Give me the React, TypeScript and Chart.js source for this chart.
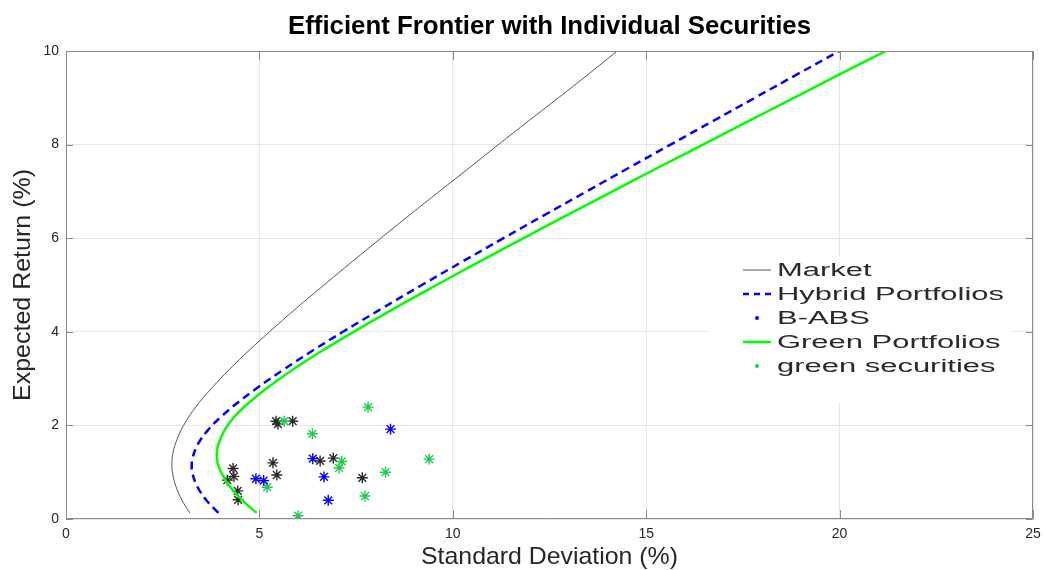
import React, { useEffect, useRef } from "react";
import { Chart, registerables } from "chart.js";

Chart.register(...registerables);

const FONT = '"Liberation Sans", Arial, Helvetica, sans-serif';

const TITLE = "Efficient Frontier with Individual Securities";
const X_LABEL = "Standard Deviation (%)";
const Y_LABEL = "Expected Return (%)";

const X_TICKS = [0, 5, 10, 15, 20, 25];
const Y_TICKS = [0, 2, 4, 6, 8, 10];

// Frontier curves: expected return levels and the standard deviation read at each
const marketRet = [0.13, 0.4, 0.7, 1.0, 1.17, 1.4, 1.7, 2.0, 2.4, 2.8, 3.2, 3.6, 4.0, 4.5, 5.0, 5.5, 6.0, 6.5, 7.0, 7.5, 8.0, 8.5, 9.0, 9.5, 10.0];
const marketSd = [3.2, 3.0, 2.84, 2.75, 2.74, 2.76, 2.87, 3.04, 3.36, 3.77, 4.23, 4.73, 5.26, 5.95, 6.67, 7.4, 8.14, 8.89, 9.65, 10.42, 11.18, 11.95, 12.73, 13.5, 14.25];

const hybridRet = [0.13, 0.4, 0.7, 1.0, 1.13, 1.3, 1.6, 1.9, 2.2, 2.5, 2.8, 3.2, 3.6, 4.0, 4.5, 5.0, 5.5, 6.0, 6.5, 7.0, 7.5, 8.0, 8.5, 9.0, 9.5, 10.0];
const hybridSd = [3.94, 3.63, 3.39, 3.26, 3.25, 3.27, 3.41, 3.67, 4.03, 4.46, 4.94, 5.64, 6.38, 7.16, 8.17, 9.2, 10.25, 11.31, 12.38, 13.46, 14.54, 15.63, 16.72, 17.81, 18.9, 20.0];

const greenRet = [0.13, 0.4, 0.7, 1.0, 1.2, 1.38, 1.6, 1.9, 2.2, 2.5, 2.8, 3.2, 3.6, 4.0, 4.5, 5.0, 5.5, 6.0, 6.5, 7.0, 7.5, 8.0, 8.5, 9.0, 9.5, 10.0];
const greenSd = [4.93, 4.56, 4.23, 4.01, 3.92, 3.9, 3.94, 4.1, 4.37, 4.75, 5.2, 5.88, 6.63, 7.44, 8.49, 9.58, 10.69, 11.83, 12.97, 14.13, 15.29, 16.47, 17.64, 18.82, 20.0, 21.2];

// Individual securities
const otherSd = [5.43, 5.48, 5.86, 4.32, 4.34, 4.17, 4.44, 4.45, 5.35, 5.45, 6.57, 6.91, 7.66];
const otherRet = [2.09, 2.03, 2.09, 1.08, 0.91, 0.83, 0.6, 0.41, 1.2, 0.94, 1.24, 1.3, 0.88];

const babsSd = [8.39, 6.38, 6.67, 4.91, 5.11, 6.78];
const babsRet = [1.92, 1.29, 0.9, 0.86, 0.82, 0.4];

const greenSecSd = [5.64, 7.81, 6.37, 7.13, 7.06, 5.2, 6.0, 8.26, 7.73, 9.39];
const greenSecRet = [2.09, 2.39, 1.82, 1.23, 1.09, 0.68, 0.07, 1.0, 0.49, 1.28];

const LEGEND_LABELS = ["Market", "Hybrid Portfolios", "B-ABS", "Green Portfolios", "green securities"];

const COLORS = {
  market: "#555555",
  hybrid: "#0000ff",
  babs: "#0000ff",
  green: "#00ff00",
  greenSec: "#1fca4c",
  other: "#2a2a2a",
};

const pts = (xs: number[], ys: number[]) => xs.map((x, i) => ({ x, y: ys[i] }));

function fitText(ctx: CanvasRenderingContext2D, text: string, x: number, y: number, width: number) {
  const w = ctx.measureText(text).width;
  const sx = width / w;
  ctx.save();
  ctx.translate(x, y);
  ctx.scale(sx, 1);
  ctx.fillText(text, 0, 0);
  ctx.restore();
}

const decorPlugin = {
  id: "decor",
  afterDraw(chart: any) {
    const { ctx, chartArea } = chart;
    const { left, right, top, bottom } = chartArea;
    const xs = chart.scales.x;
    const ys = chart.scales.y;
    ctx.save();

    // box
    ctx.strokeStyle = "#8a8a8a";
    ctx.lineWidth = 1;
    ctx.beginPath();
    ctx.rect(left + 0.5, top + 0.5, right - left - 1, bottom - top - 1);
    ctx.stroke();

    // inward ticks
    ctx.beginPath();
    X_TICKS.forEach((v) => {
      const p = Math.round(xs.getPixelForValue(v)) + 0.5;
      ctx.moveTo(p, bottom);
      ctx.lineTo(p, bottom - 9);
      ctx.moveTo(p, top);
      ctx.lineTo(p, top + 9);
    });
    Y_TICKS.forEach((v) => {
      const p = Math.round(ys.getPixelForValue(v)) + 0.5;
      ctx.moveTo(left, p);
      ctx.lineTo(left + 7, p);
      ctx.moveTo(right, p);
      ctx.lineTo(right - 7, p);
    });
    ctx.stroke();

    // title
    ctx.fillStyle = "#000000";
    ctx.font = `bold 25px ${FONT}`;
    ctx.textAlign = "center";
    ctx.textBaseline = "middle";
    fitText(ctx, TITLE, (left + right) / 2, 27, 523);

    // axis labels
    ctx.fillStyle = "#262626";
    ctx.font = `24px ${FONT}`;
    fitText(ctx, X_LABEL, (left + right) / 2, 557, 257);
    ctx.save();
    ctx.translate(23, (top + bottom) / 2);
    ctx.rotate(-Math.PI / 2);
    fitText(ctx, Y_LABEL, 0, 0, 232);
    ctx.restore();

    // legend
    ctx.fillStyle = "#ffffff";
    ctx.fillRect(708, 256, 304, 146);
    const rows = [270, 294, 318, 342, 366];
    const lx0 = 743;
    const lx1 = 771;
    ctx.strokeStyle = COLORS.market;
    ctx.lineWidth = 1;
    ctx.beginPath();
    ctx.moveTo(lx0, rows[0]);
    ctx.lineTo(lx1, rows[0]);
    ctx.stroke();
    ctx.strokeStyle = COLORS.hybrid;
    ctx.lineWidth = 2.5;
    ctx.setLineDash([6, 5]);
    ctx.beginPath();
    ctx.moveTo(lx0, rows[1]);
    ctx.lineTo(lx1, rows[1]);
    ctx.stroke();
    ctx.setLineDash([]);
    ctx.fillStyle = COLORS.babs;
    ctx.beginPath();
    ctx.arc(757, rows[2], 2, 0, Math.PI * 2);
    ctx.fill();
    ctx.strokeStyle = COLORS.green;
    ctx.lineWidth = 2.5;
    ctx.beginPath();
    ctx.moveTo(lx0, rows[3]);
    ctx.lineTo(lx1, rows[3]);
    ctx.stroke();
    ctx.fillStyle = COLORS.greenSec;
    ctx.beginPath();
    ctx.arc(757, rows[4], 2, 0, Math.PI * 2);
    ctx.fill();

    ctx.fillStyle = "#2a2a2a";
    ctx.font = `18px ${FONT}`;
    ctx.textAlign = "left";
    ctx.textBaseline = "middle";
    const sx = 227 / ctx.measureText("Hybrid Portfolios").width;
    LEGEND_LABELS.forEach((t, i) => {
      ctx.save();
      ctx.translate(777, rows[i] + 1);
      ctx.scale(sx, 1);
      ctx.fillText(t, 0, 0);
      ctx.restore();
    });

    ctx.restore();
  },
};

export default function App() {
  const ref = useRef<HTMLCanvasElement | null>(null);

  useEffect(() => {
    if (!ref.current) return;
    const starDs = (label: string, xs: number[], ys: number[], color: string) => ({
      label,
      data: pts(xs, ys),
      showLine: false,
      pointStyle: "star",
      pointRadius: 5.5,
      pointHoverRadius: 5.5,
      borderColor: color,
      backgroundColor: color,
      pointBorderWidth: 1.4,
    });
    const lineDs = (label: string, xs: number[], ys: number[], color: string, width: number, dash: number[]) => ({
      label,
      data: pts(xs, ys),
      showLine: true,
      pointRadius: 0,
      borderColor: color,
      backgroundColor: color,
      borderWidth: width,
      borderDash: dash,
      tension: 0.4,
      fill: false,
    });

    const chart = new Chart(ref.current, {
      type: "scatter",
      data: {
        datasets: [
          lineDs("Market", marketSd, marketRet, COLORS.market, 1, []),
          lineDs("Hybrid Portfolios", hybridSd, hybridRet, COLORS.hybrid, 2.5, [8, 5]),
          starDs("B-ABS", babsSd, babsRet, COLORS.babs),
          lineDs("Green Portfolios", greenSd, greenRet, COLORS.green, 2.5, []),
          starDs("green securities", greenSecSd, greenSecRet, COLORS.greenSec),
          starDs("other securities", otherSd, otherRet, COLORS.other),
        ] as any,
      },
      options: {
        responsive: false,
        animation: false,
        events: [],
        layout: { padding: { top: 51, right: 11, left: 0, bottom: 0 } },
        plugins: {
          legend: { display: false },
          tooltip: { enabled: false },
          title: { display: false },
        },
        scales: {
          x: {
            type: "linear",
            min: 0,
            max: 25,
            afterFit: (s: any) => {
              s.height = 51;
              s.paddingLeft = 0;
              s.paddingRight = 0;
            },
            afterBuildTicks: (s: any) => {
              s.ticks = X_TICKS.map((v) => ({ value: v }));
            },
            ticks: {
              padding: 7,
              font: { family: FONT, size: 14 },
              color: "#262626",
              maxRotation: 0,
            },
            grid: { color: "#e6e6e6", lineWidth: 1, drawTicks: false },
            border: { display: false },
          },
          y: {
            type: "linear",
            min: 0,
            max: 10,
            afterFit: (s: any) => {
              s.width = 66;
              s.paddingTop = 0;
              s.paddingBottom = 0;
            },
            afterBuildTicks: (s: any) => {
              s.ticks = Y_TICKS.map((v) => ({ value: v }));
            },
            ticks: {
              padding: 7,
              font: { family: FONT, size: 14 },
              color: "#262626",
            },
            grid: { color: "#e6e6e6", lineWidth: 1, drawTicks: false },
            border: { display: false },
          },
        },
      } as any,
      plugins: [decorPlugin],
    });
    return () => chart.destroy();
  }, []);

  return (
    <div style={{ position: "fixed", left: 0, top: 0, width: 1044, height: 570, background: "#ffffff" }}>
      <canvas ref={ref} width={1044} height={570} style={{ display: "block", width: 1044, height: 570 }} />
    </div>
  );
}
